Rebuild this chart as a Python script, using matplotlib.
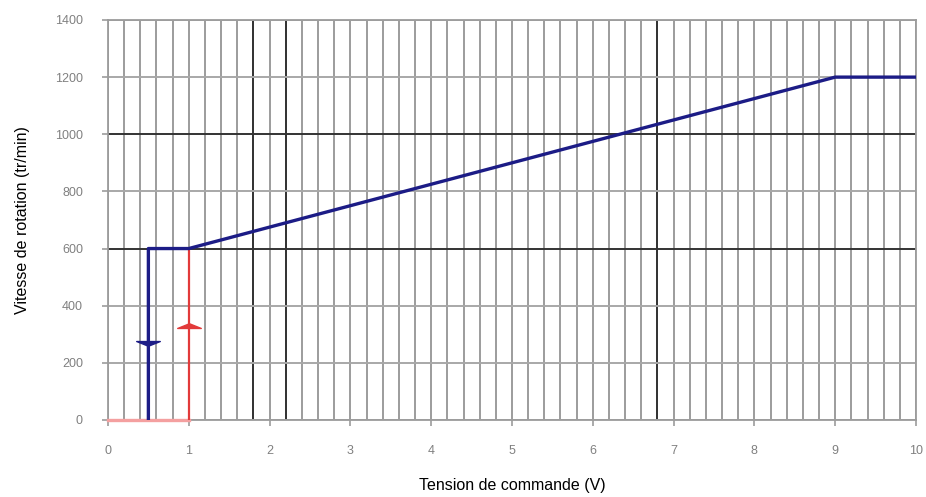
import matplotlib.pyplot as plt
from matplotlib.path import Path

plt.rcParams['font.family'] = ['Liberation Sans', 'DejaVu Sans']

# Courbe de montée (bleu) et seuil de démarrage (rouge)
tension_bleu = [0.5, 0.5, 1.0, 9.0, 10.0]
vitesse_bleu = [0, 600, 600, 1200, 1200]

tension_rouge = [0.0, 1.0, 1.0]
vitesse_rouge = [0, 0, 600]

# flèches : (x, y) sur chaque tracé
fleche_bleu = (0.5, 270)
fleche_rouge = (1.0, 330)

x_ticks = list(range(0, 11))
y_ticks = list(range(0, 1401, 200))

fig = plt.figure(figsize=(9.26, 4.97), dpi=100)
ax = fig.add_axes([0.1166, 0.155, 0.8726, 0.8048])

# grille : tous les 0.2 V et 200 tr/min
for i in range(51):
    x = i * 0.2
    ax.axvline(x, color='#9c9c9c', lw=1.4, zorder=1)
for v in (1.8, 2.2, 6.8):
    ax.axvline(v, color='#333333', lw=1.4, zorder=1)
for y in y_ticks:
    c = '#333333' if y in (600, 1000) else '#a8a8a8'
    ax.axhline(y, color=c, lw=1.4, zorder=1)

ax.plot(tension_rouge[:2], vitesse_rouge[:2], color='#f4a0a0', lw=2.4, zorder=3, clip_on=False)
ax.plot(tension_rouge[1:], vitesse_rouge[1:], color='#e23a3a', lw=1.6, zorder=3)
ax.plot(tension_bleu, vitesse_bleu, color='#1c1c86', lw=2.4, zorder=4)

tete = Path([(-1.5, -0.25), (0, 0.35), (1.5, -0.25), (-1.5, -0.25)],
            [Path.MOVETO, Path.LINETO, Path.LINETO, Path.CLOSEPOLY])
tete_bas = Path([(-1.5, 0.25), (0, -0.35), (1.5, 0.25), (-1.5, 0.25)],
                [Path.MOVETO, Path.LINETO, Path.LINETO, Path.CLOSEPOLY])
ax.plot(*fleche_rouge, marker=tete, markersize=17, color='#e23a3a', zorder=5)
ax.plot(*fleche_bleu, marker=tete_bas, markersize=17, color='#1c1c86', zorder=5)

ax.set_xlim(0, 10)
ax.set_ylim(0, 1400)
ax.set_xticks(x_ticks)
ax.set_yticks(y_ticks)
ax.tick_params(axis='both', labelsize=9, labelcolor='#808080', color='#9c9c9c',
               length=4, width=1.2, direction='out')
ax.tick_params(axis='x', pad=14)
ax.tick_params(axis='y', pad=14)
for s in ax.spines.values():
    s.set_color('#9c9c9c')
    s.set_linewidth(1.3)

ax.set_xlabel('Tension de commande (V)', fontsize=11.5, labelpad=15)
ax.set_ylabel('Vitesse de rotation (tr/min)', fontsize=11.5, labelpad=18)

plt.savefig('out.png', dpi=100)
